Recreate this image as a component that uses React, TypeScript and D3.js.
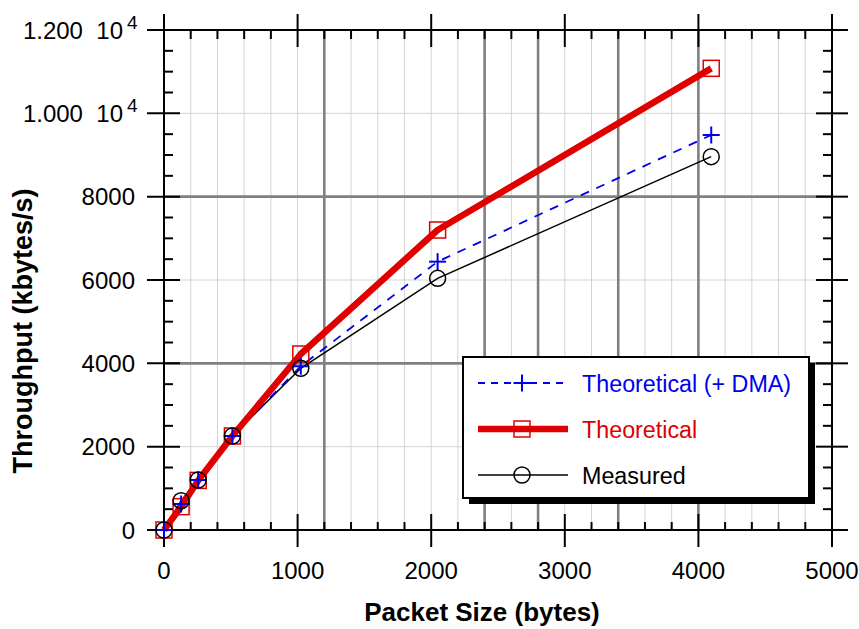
import React from "react";
import * as d3 from "d3";

const packetSizes = [0, 128, 256, 512, 1024, 2048, 4096];
const theoretical = [0, 560, 1190, 2256, 4224, 7200, 11080];
const theoreticalDMA = [0, 624, 1200, 2256, 3930, 6440, 9480];
const measured = [0, 703, 1200, 2256, 3880, 6040, 8960];

const xTicks = [0, 1000, 2000, 3000, 4000, 5000];
const xTickLabels = ["0", "1000", "2000", "3000", "4000", "5000"];
const yTicks = [0, 2000, 4000, 6000, 8000, 10000, 12000];
const yTickLabels = ["0", "2000", "4000", "6000", "8000", "1.000  10", "1.200  10"];
const yTickExps = ["", "", "", "", "", "4", "4"];

const thickGridX = [1200, 2400, 2800, 3400, 4000];
const thickGridY = [4000, 8000];
const lightGridY = [2000, 6000, 10000];

const seriesNames = ["Theoretical (+ DMA)", "Theoretical", "Measured"];

const W = 859;
const H = 629;
const L = 164, R = 832, T = 30, B = 530;
const FONT = "'Liberation Sans', Arial, Helvetica, sans-serif";
const RED = "#e00000";
const BLUE = "#0000ee";

export default function App() {
  const x = d3.scaleLinear().domain([0, 5000]).range([L, R]);
  const y = d3.scaleLinear().domain([0, 12000]).range([B, T]);

  const lightGridX = d3.range(200, 5000, 200).filter((v) => !thickGridX.includes(v));
  const xMinor = d3.range(0, 5001, 200).filter((v) => v % 1000 !== 0);
  const yMinor = d3.range(0, 12001, 500).filter((v) => v % 2000 !== 0);

  const line = (vals: number[]) =>
    d3.line<number>().x((_, i) => x(packetSizes[i])).y((v) => y(v))(vals) || "";

  const plus = (cx: number, cy: number, key: string | number, s = 8.5) => (
    <g key={key} stroke={BLUE} strokeWidth={2}>
      <line x1={cx - s} x2={cx + s} y1={cy} y2={cy} />
      <line x1={cx} x2={cx} y1={cy - s} y2={cy + s} />
    </g>
  );
  const square = (cx: number, cy: number, key: string | number, s = 8) => (
    <rect key={key} x={cx - s} y={cy - s} width={2 * s} height={2 * s} fill="none" stroke={RED} strokeWidth={1.5} />
  );
  const circle = (cx: number, cy: number, key: string | number) => (
    <circle key={key} cx={cx} cy={cy} r={8} fill="none" stroke="#000" strokeWidth={1.5} />
  );

  const lx0 = 478, lx1 = 568, lmx = 522, ltx = 582;
  const rows = [383, 429, 475];

  return (
    <svg width={W} height={H} style={{ position: "absolute", left: 0, top: 0, background: "#fff" }} fontFamily={FONT}>
      <rect width={W} height={H} fill="#fff" />
      {/* grid */}
      {lightGridX.map((v) => (
        <line key={"lgx" + v} x1={x(v)} x2={x(v)} y1={T} y2={B} stroke="#d4d4d4" strokeWidth={1} />
      ))}
      {lightGridY.map((v) => (
        <line key={"lgy" + v} x1={L} x2={R} y1={y(v)} y2={y(v)} stroke="#d4d4d4" strokeWidth={1} />
      ))}
      {thickGridX.map((v) => (
        <line key={"tgx" + v} x1={x(v)} x2={x(v)} y1={T} y2={B} stroke="#808080" strokeWidth={2.6} />
      ))}
      {thickGridY.map((v) => (
        <line key={"tgy" + v} x1={L} x2={R} y1={y(v)} y2={y(v)} stroke="#808080" strokeWidth={2.6} />
      ))}

      {/* axes frame */}
      <rect x={L} y={T} width={R - L} height={B - T} fill="none" stroke="#000" strokeWidth={2} />
      {xTicks.map((v) => (
        <g key={"xt" + v} stroke="#000" strokeWidth={2}>
          <line x1={x(v)} x2={x(v)} y1={B - 16} y2={B + 17} />
          <line x1={x(v)} x2={x(v)} y1={T - 16} y2={T + 17} />
        </g>
      ))}
      {xMinor.map((v) => (
        <g key={"xm" + v} stroke="#000" strokeWidth={2}>
          <line x1={x(v)} x2={x(v)} y1={B} y2={B - 8} />
          <line x1={x(v)} x2={x(v)} y1={T} y2={T + 9} />
        </g>
      ))}
      {yTicks.map((v) => (
        <g key={"yt" + v} stroke="#000" strokeWidth={2}>
          <line x1={L - 17} x2={L + 16} y1={y(v)} y2={y(v)} />
          <line x1={R - 16} x2={R + 16} y1={y(v)} y2={y(v)} />
        </g>
      ))}
      {yMinor.map((v) => (
        <g key={"ym" + v} stroke="#000" strokeWidth={2}>
          <line x1={L} x2={L + 9} y1={y(v)} y2={y(v)} />
          <line x1={R} x2={R - 9} y1={y(v)} y2={y(v)} />
        </g>
      ))}

      {/* tick labels */}
      {xTicks.map((v, i) => (
        <text key={"xl" + v} x={x(v)} y={579} fontSize={24} textAnchor="middle" fill="#000">
          {xTickLabels[i]}
        </text>
      ))}
      {yTicks.map((v, i) =>
        yTickExps[i] ? (
          <g key={"yl" + v}>
            <text x={123} y={y(v) + 8.5} fontSize={24} textAnchor="end" style={{ whiteSpace: "pre" }} fill="#000">
              {yTickLabels[i]}
            </text>
            <text x={127} y={y(v) - 1.5} fontSize={19} textAnchor="start" fill="#000">
              {yTickExps[i]}
            </text>
          </g>
        ) : (
          <text key={"yl" + v} x={135} y={y(v) + 8.5} fontSize={24} textAnchor="end" fill="#000">
            {yTickLabels[i]}
          </text>
        )
      )}

      {/* titles */}
      <text x={482} y={621} fontSize={26} fontWeight="bold" textAnchor="middle" fill="#000">
        Packet Size (bytes)
      </text>
      <text transform={`translate(32,331) rotate(-90)`} fontSize={27} fontWeight="bold" textAnchor="middle" fill="#000">
        Throughput (kbytes/s)
      </text>

      {/* data lines */}
      <path d={line(measured)} fill="none" stroke="#000" strokeWidth={1.5} />
      <path d={line(theoreticalDMA)} fill="none" stroke={BLUE} strokeWidth={1.8} strokeDasharray="9 8" />
      <path d={line(theoretical)} fill="none" stroke={RED} strokeWidth={6.5} strokeLinejoin="round" />

      {/* markers */}
      {theoretical.map((v, i) => square(x(packetSizes[i]), y(v), "sq" + i))}
      {theoreticalDMA.map((v, i) => plus(x(packetSizes[i]), y(v), "pl" + i))}
      {measured.map((v, i) => circle(x(packetSizes[i]), y(v), "ci" + i))}

      {/* legend */}
      <rect x={469} y={363} width={346} height={141} fill="#000" />
      <rect x={463} y={357} width={346} height={141} fill="#fff" stroke="#000" strokeWidth={2} />
      <line x1={lx0} x2={lx1} y1={rows[0]} y2={rows[0]} stroke={BLUE} strokeWidth={1.8} strokeDasharray="7 6" />
      {plus(lmx, rows[0], "lp")}
      <text x={ltx} y={rows[0] + 8.5} fontSize={23.3} fill={BLUE}>{seriesNames[0]}</text>
      <line x1={lx0} x2={lx1} y1={rows[1]} y2={rows[1]} stroke={RED} strokeWidth={6.5} />
      {square(lmx, rows[1], "ls")}
      <text x={ltx} y={rows[1] + 8.5} fontSize={23.3} fill={RED}>{seriesNames[1]}</text>
      <line x1={lx0} x2={lx1} y1={rows[2]} y2={rows[2]} stroke="#000" strokeWidth={1.5} />
      {circle(lmx, rows[2], "lc")}
      <text x={ltx} y={rows[2] + 8.5} fontSize={23.3} fill="#000">{seriesNames[2]}</text>
    </svg>
  );
}
